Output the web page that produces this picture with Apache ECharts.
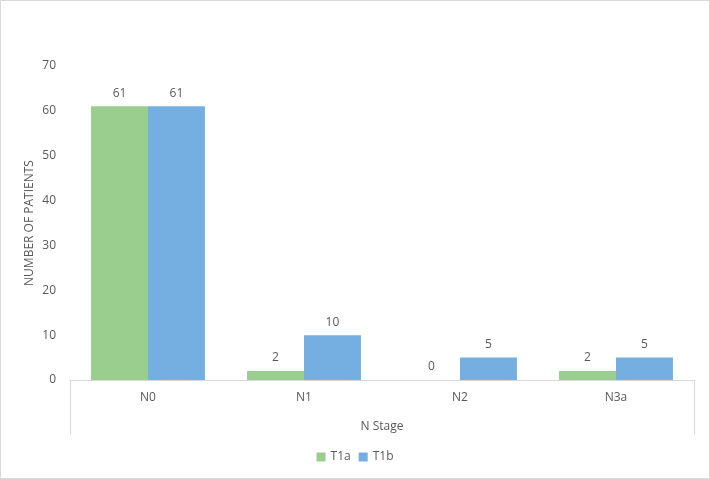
<!DOCTYPE html>
<html lang="en">
<head>
    <meta charset="UTF-8">
    <title>N Stage</title>
    <script src="https://cdn.jsdelivr.net/npm/echarts@6/dist/echarts.min.js"></script>
    <style>
        html, body { margin: 0; padding: 0; background: #fff; }
        #chart { width: 710px; height: 479px; }
    </style>
</head>
<body>
<div id="chart"></div>
<script>
    var categories = ['N0', 'N1', 'N2', 'N3a'];
    var seriesNames = ['T1a', 'T1b'];
    var t1a = [61, 2, 0, 2];
    var t1b = [61, 10, 5, 5];

    var textColor = '#595959';
    var font = '"Open Sans", "Liberation Sans", sans-serif';

    var myChart = echarts.init(document.getElementById('chart'));
    var option = {
        animation: false,
        textStyle: { fontFamily: font, color: textColor },
        grid: { left: 70, right: 16, top: 66, bottom: 99 },
        legend: {
            data: seriesNames,
            bottom: 11,
            left: 'center',
            itemWidth: 9,
            itemHeight: 9,
            itemGap: 8,
            icon: 'rect',
            textStyle: { color: textColor, fontSize: 12, fontFamily: font }
        },
        xAxis: {
            type: 'category',
            data: categories,
            name: 'N Stage',
            nameLocation: 'middle',
            nameGap: 41,
            nameTextStyle: { color: textColor, fontSize: 12 },
            axisLine: { lineStyle: { color: '#d9d9d9', width: 1 } },
            axisTick: { show: false },
            axisLabel: { color: textColor, fontSize: 12, margin: 12 }
        },
        yAxis: {
            type: 'value',
            min: 0,
            max: 70,
            interval: 10,
            name: 'NUMBER OF PATIENTS',
            nameLocation: 'middle',
            nameGap: 34,
            nameMoveOverlap: false,
            nameTextStyle: { color: textColor, fontSize: 12 },
            axisLine: { show: false },
            axisTick: { show: false },
            splitLine: { show: false },
            axisLabel: { color: textColor, fontSize: 12, margin: 14 }
        },
        series: [
            {
                name: seriesNames[0],
                type: 'bar',
                data: t1a,
                barGap: '0%',
                barCategoryGap: '27%',
                itemStyle: { color: '#9ace8e' },
                label: { show: true, position: 'top', distance: 7, color: textColor, fontSize: 12 }
            },
            {
                name: seriesNames[1],
                type: 'bar',
                data: t1b,
                barGap: '0%',
                barCategoryGap: '27%',
                itemStyle: { color: '#75aee0' },
                label: { show: true, position: 'top', distance: 7, color: textColor, fontSize: 12 }
            }
        ],
        graphic: [
            {
                type: 'rect',
                shape: { x: 0.5, y: 0.5, width: 709, height: 478 },
                style: { fill: 'none', stroke: '#d9d9d9', lineWidth: 1 },
                silent: true
            },
            {
                type: 'line',
                shape: { x1: 70.5, y1: 380, x2: 70.5, y2: 435 },
                style: { stroke: '#d9d9d9', lineWidth: 1 },
                silent: true
            },
            {
                type: 'line',
                shape: { x1: 694.5, y1: 380, x2: 694.5, y2: 435 },
                style: { stroke: '#d9d9d9', lineWidth: 1 },
                silent: true
            }
        ]
    };
    myChart.setOption(option);
</script>
</body>
</html>
